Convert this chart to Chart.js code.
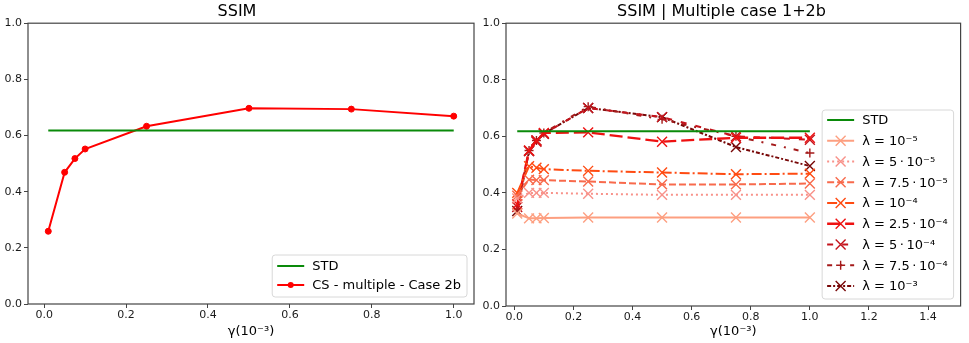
<!DOCTYPE html>
<html lang="en">
<head>
  <meta charset="UTF-8">
  <title>SSIM</title>
  <script src="https://cdn.jsdelivr.net/npm/chart.js"></script>
  <style>
    body { margin: 0; background: #fff; }
    #wrap { position: relative; width: 969px; height: 343px; }
    .box { position: absolute; top: 0; height: 343px; }
  </style>
</head>
<body>
  <div id="wrap">
    <div class="box" style="left:0;width:480px"><canvas id="leftChart"></canvas></div>
    <div class="box" style="left:480px;width:489px"><canvas id="rightChart"></canvas></div>
  </div>

  <script>
    // gamma values (x axis, in 10^-3)
    const gamma = [0.01, 0.05, 0.075, 0.1, 0.25, 0.5, 0.75, 1.0];
    const stdValue = 0.618;

    // left panel
    const csCase2b = [0.259, 0.469, 0.518, 0.552, 0.633, 0.697, 0.694, 0.669];

    // right panel, one array per lambda
    const lam1e5   = [0.327, 0.310, 0.310, 0.311, 0.313, 0.313, 0.313, 0.313];
    const lam5e5   = [0.380, 0.400, 0.400, 0.400, 0.397, 0.393, 0.393, 0.393];
    const lam75e5  = [0.390, 0.447, 0.445, 0.445, 0.440, 0.430, 0.430, 0.433];
    const lam1e4   = [0.400, 0.494, 0.489, 0.484, 0.478, 0.472, 0.466, 0.468];
    const lam25e4  = [0.360, 0.550, 0.585, 0.612, 0.614, 0.581, 0.595, 0.595];
    const lam5e4   = [0.350, 0.548, 0.581, 0.609, 0.700, 0.668, 0.600, 0.588];
    const lam75e4  = [0.340, 0.550, 0.585, 0.612, 0.705, 0.660, 0.600, 0.541];
    const lam1e3   = [0.336, 0.548, 0.585, 0.609, 0.700, 0.668, 0.562, 0.495];

    const lamLabels = ['λ = 10⁻⁵', 'λ = 5\u2009·\u200910⁻⁵', 'λ = 7.5\u2009·\u200910⁻⁵', 'λ = 10⁻⁴',
                       'λ = 2.5\u2009·\u200910⁻⁴', 'λ = 5\u2009·\u200910⁻⁴', 'λ = 7.5\u2009·\u200910⁻⁴', 'λ = 10⁻³'];

    const xTicksLeft = [0, 0.2, 0.4, 0.6, 0.8, 1.0];
    const xTicksRight = [0, 0.2, 0.4, 0.6, 0.8, 1.0, 1.2, 1.4];
    const yTicks = [0, 0.2, 0.4, 0.6, 0.8, 1.0];

    const FONT = '"DejaVu Sans", sans-serif';
    const pts = vals => vals.map((v, i) => ({ x: gamma[i], y: v }));
    const stdLine = () => [{ x: gamma[0], y: stdValue }, { x: gamma[gamma.length - 1], y: stdValue }];

    // draw a marker by hand (used by the legend)
    function marker(ctx, style, x, y, r, color, width) {
      ctx.save();
      ctx.setLineDash([]);
      ctx.strokeStyle = color;
      ctx.fillStyle = color;
      ctx.lineWidth = width;
      ctx.beginPath();
      if (style === 'circle') {
        ctx.arc(x, y, r, 0, Math.PI * 2);
        ctx.fill();
      } else if (style === 'cross') {
        ctx.moveTo(x - r, y); ctx.lineTo(x + r, y);
        ctx.moveTo(x, y - r); ctx.lineTo(x, y + r);
        ctx.stroke();
      } else if (style === 'crossRot') {
        const d = r * Math.SQRT1_2;
        ctx.moveTo(x - d, y - d); ctx.lineTo(x + d, y + d);
        ctx.moveTo(x - d, y + d); ctx.lineTo(x + d, y - d);
        ctx.stroke();
      }
      ctx.restore();
    }

    // matplotlib style frame + lower right legend
    const framePlugin = {
      id: 'frame',
      afterDraw(chart, args, opts) {
        const ctx = chart.ctx, a = chart.chartArea;
        ctx.save();
        ctx.strokeStyle = '#444';
        ctx.lineWidth = 1.2;
        ctx.strokeRect(a.left, a.top, a.right - a.left, a.bottom - a.top);

        const items = chart.data.datasets;
        ctx.font = '13px ' + FONT;
        const textW = Math.max(...items.map(d => ctx.measureText(d.label).width));
        const w = 40 + textW + 6;
        const h = opts.padTop + (items.length - 1) * opts.rowH + opts.padBottom;
        const x0 = a.right - 7 - w, y0 = a.bottom - 7 - h;
        ctx.fillStyle = 'rgba(255,255,255,0.85)';
        ctx.strokeStyle = '#d8d8d8';
        ctx.lineWidth = 1;
        ctx.beginPath();
        ctx.roundRect(x0, y0, w, h, 3);
        ctx.fill();
        ctx.stroke();

        items.forEach((d, i) => {
          const cy = y0 + opts.padTop + i * opts.rowH;
          ctx.save();
          ctx.strokeStyle = d.borderColor;
          ctx.lineWidth = d.borderWidth;
          ctx.setLineDash(d.borderDash || []);
          ctx.beginPath();
          ctx.moveTo(x0 + 5, cy);
          ctx.lineTo(x0 + 32, cy);
          ctx.stroke();
          ctx.restore();
          if (d.pointRadius > 0) {
            marker(ctx, d.pointStyle, x0 + 18.5, cy, d.pointRadius, d.pointBorderColor || d.borderColor, d.pointBorderWidth || 1);
          }
          ctx.fillStyle = '#000';
          ctx.textBaseline = 'middle';
          ctx.fillText(d.label, x0 + 40, cy + 1);
        });
        ctx.restore();
      }
    };

    function makeOptions(title, xMin, xMax, xTicks, yWidth, xHeight, legendOpts) {
      return {
        responsive: true,
        maintainAspectRatio: false,
        animation: false,
        layout: { padding: { right: 6, left: 0, top: 0, bottom: 0 } },
        plugins: {
          legend: { display: false },
          tooltip: { enabled: false },
          title: {
            display: true, text: title, color: '#000',
            font: { family: FONT, size: 16, weight: 'normal' },
            padding: { top: 2, bottom: 2 }
          },
          frame: legendOpts
        },
        scales: {
          x: {
            type: 'linear', min: xMin, max: xMax,
            afterBuildTicks: s => { s.ticks = xTicks.map(v => ({ value: v })); },
            afterFit: s => { s.height = xHeight; },
            border: { display: false },
            grid: { drawOnChartArea: false, drawTicks: true, tickLength: 4, color: '#444' },
            ticks: {
              color: '#1a1a1a', padding: 1,
              font: { family: FONT, size: 11 },
              callback: v => v.toFixed(1)
            },
            title: {
              display: true, text: 'γ(10⁻³)', color: '#000',
              font: { family: FONT, size: 13 },
              padding: { top: 0, bottom: 4 }
            }
          },
          y: {
            min: 0, max: 1,
            afterBuildTicks: s => { s.ticks = yTicks.map(v => ({ value: v })); },
            afterFit: s => { s.width = yWidth; },
            border: { display: false },
            grid: { drawOnChartArea: false, drawTicks: true, tickLength: 4, color: '#444' },
            ticks: {
              color: '#1a1a1a', padding: 2,
              font: { family: FONT, size: 11 },
              callback: v => v.toFixed(1)
            }
          }
        }
      };
    }

    const stdDataset = {
      label: 'STD', data: stdLine(), borderColor: '#0a8a0a', borderWidth: 2,
      pointRadius: 0, fill: false
    };

    new Chart(document.getElementById('leftChart'), {
      type: 'line',
      data: {
        datasets: [
          Object.assign({}, stdDataset),
          {
            label: 'CS - multiple - Case 2b', data: pts(csCase2b),
            borderColor: '#ff0000', backgroundColor: '#ff0000', borderWidth: 2,
            pointStyle: 'circle', pointRadius: 3, pointBorderColor: '#ff0000',
            pointBackgroundColor: '#ff0000', pointBorderWidth: 1, fill: false
          }
        ]
      },
      options: makeOptions('SSIM', -0.0395, 1.0495, xTicksLeft, 28, 39, { rowH: 19, padTop: 11, padBottom: 12 }),
      plugins: [framePlugin]
    });

    const lamValues = [lam1e5, lam5e5, lam75e5, lam1e4, lam25e4, lam5e4, lam75e4, lam1e3];
    const lamColors = ['#fd9f80', '#f8928a', '#f86a4c', '#ff4b12', '#ee1111', '#c4141c', '#a41a1a', '#780808'];
    const lamDashes = [[], [2, 3], [7, 3], [10, 3, 2, 3], [13, 5], [6, 9], [5, 8, 2, 8], [4, 2, 2, 2]];
    const lamMarkers = ['crossRot', 'crossRot', 'crossRot', 'crossRot', 'crossRot', 'crossRot', 'cross', 'crossRot'];

    const rightSets = [Object.assign({}, stdDataset, { data: stdLine() })];
    lamValues.forEach((vals, i) => {
      rightSets.push({
        label: lamLabels[i], data: pts(vals),
        borderColor: lamColors[i], backgroundColor: lamColors[i],
        borderWidth: i === 4 ? 2.3 : 2, borderDash: lamDashes[i],
        pointStyle: lamMarkers[i], pointRadius: lamMarkers[i] === 'cross' ? 4.5 : 7,
        pointBorderColor: lamColors[i], pointBorderWidth: 1.4, fill: false
      });
    });

    new Chart(document.getElementById('rightChart'), {
      type: 'line',
      data: { datasets: rightSets },
      options: makeOptions('SSIM | Multiple case 1+2b', -0.028, 1.51, xTicksRight, 26, 37, { rowH: 20.75, padTop: 10, padBottom: 13 }),
      plugins: [framePlugin]
    });
  </script>
</body>
</html>
